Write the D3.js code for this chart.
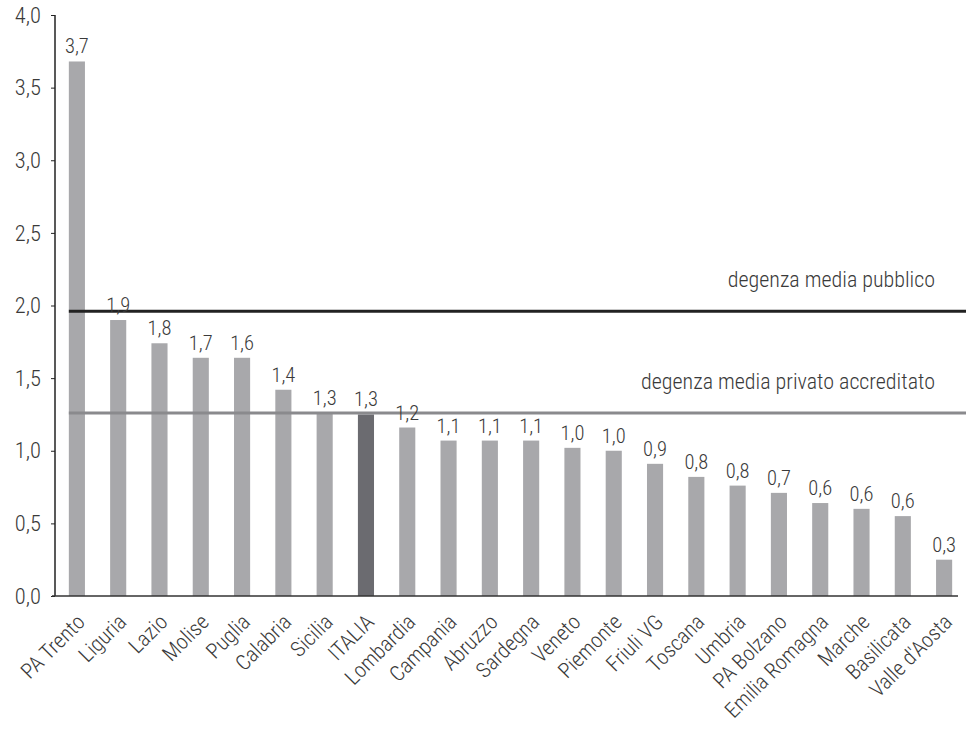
<!DOCTYPE html>
<html>
<head>
<meta charset="utf-8">
<script src="https://cdn.jsdelivr.net/npm/d3@7"></script>
<style>
  body { margin: 0; background: #fff; }
  svg text { font-family: "Liberation Sans Narrow", "Roboto Condensed", "Liberation Sans", sans-serif; font-weight: 300; fill: #3a3a3a; }
</style>
</head>
<body>
<div class="chart"></div>
<script>
// Data
const regions = ["PA Trento", "Liguria", "Lazio", "Molise", "Puglia", "Calabria", "Sicilia", "ITALIA",
  "Lombardia", "Campania", "Abruzzo", "Sardegna", "Veneto", "Piemonte", "Friuli VG", "Toscana",
  "Umbria", "PA Bolzano", "Emilia Romagna", "Marche", "Basilicata", "Valle d'Aosta"];
const values = [3.68, 1.90, 1.74, 1.64, 1.64, 1.42, 1.26, 1.25, 1.16, 1.07, 1.07, 1.07,
  1.02, 1.00, 0.91, 0.82, 0.76, 0.71, 0.64, 0.60, 0.55, 0.25];
const valueLabels = ["3,7", "1,9", "1,8", "1,7", "1,6", "1,4", "1,3", "1,3", "1,2", "1,1", "1,1", "1,1",
  "1,0", "1,0", "0,9", "0,8", "0,8", "0,7", "0,6", "0,6", "0,6", "0,3"];
const yTicks = [0, 0.5, 1, 1.5, 2, 2.5, 3, 3.5, 4];
const refNames = ["degenza media pubblico", "degenza media privato accreditato"];
const refValues = [1.96, 1.26];

// Setup
const width = 966, height = 732;
const plotLeft = 55, plotTop = 15, plotBottom = 596, plotRight = 966;

const svg = d3.select(".chart").append("svg")
  .attr("width", width)
  .attr("height", height);

const x = d3.scaleBand()
  .domain(regions)
  .range([plotLeft, plotRight])
  .paddingInner(0.61)
  .paddingOuter(0.335);

const y = d3.scaleLinear()
  .domain([0, 4])
  .range([plotBottom, plotTop]);

// Bars
svg.append("g")
  .selectAll("rect")
  .data(regions)
  .enter()
  .append("rect")
  .attr("x", d => x(d))
  .attr("width", x.bandwidth())
  .attr("y", (d, i) => y(values[i]))
  .attr("height", (d, i) => y(0) - y(values[i]))
  .attr("fill", d => d === "ITALIA" ? "#6b6b70" : "#a8a8ab");

// Reference lines
const refColors = ["#222", "#8a8a8d"];
svg.append("g")
  .selectAll("line")
  .data(refValues)
  .enter()
  .append("line")
  .attr("x1", x(regions[0]))
  .attr("x2", width)
  .attr("y1", d => y(d))
  .attr("y2", d => y(d))
  .attr("stroke", (d, i) => refColors[i])
  .attr("stroke-width", 3);

svg.append("g")
  .selectAll("text")
  .data(refValues)
  .enter()
  .append("text")
  .attr("x", 935)
  .attr("y", d => y(d) - 24)
  .attr("text-anchor", "end")
  .style("font-size", "22px")
  .text((d, i) => refNames[i]);

// Value labels
svg.append("g")
  .selectAll("text")
  .data(regions)
  .enter()
  .append("text")
  .attr("x", d => x(d) + x.bandwidth() / 2)
  .attr("y", (d, i) => y(values[i]) - 8)
  .attr("text-anchor", "middle")
  .style("font-size", "20.5px")
  .text((d, i) => valueLabels[i]);

// Y axis
const yAxis = svg.append("g")
  .attr("transform", `translate(${plotLeft},0)`)
  .call(d3.axisLeft(y)
    .tickValues(yTicks)
    .tickSize(4)
    .tickPadding(10)
    .tickFormat(d => d3.format(".1f")(d).replace(".", ",")));

yAxis.select(".domain").attr("d", `M0,${plotTop}V${plotBottom}`).attr("stroke", "#222").attr("stroke-width", 1.5);
yAxis.selectAll(".tick line").attr("stroke", "#222");
yAxis.selectAll(".tick text").style("font-size", "22.5px").attr("fill", "#3a3a3a");

// X axis
const xAxis = svg.append("g")
  .attr("transform", `translate(0,${plotBottom})`)
  .call(d3.axisBottom(x).tickSize(0).tickPadding(0));

xAxis.select(".domain").attr("d", `M${plotLeft - 3},0H958`).attr("stroke", "#333").attr("stroke-width", 1.5);
xAxis.selectAll(".tick text")
  .attr("text-anchor", "end")
  .attr("fill", "#3a3a3a")
  .style("font-size", "21.5px")
  .attr("transform", "translate(-2,16) rotate(-45)")
  .attr("dy", "0.75em");
</script>
</body>
</html>
